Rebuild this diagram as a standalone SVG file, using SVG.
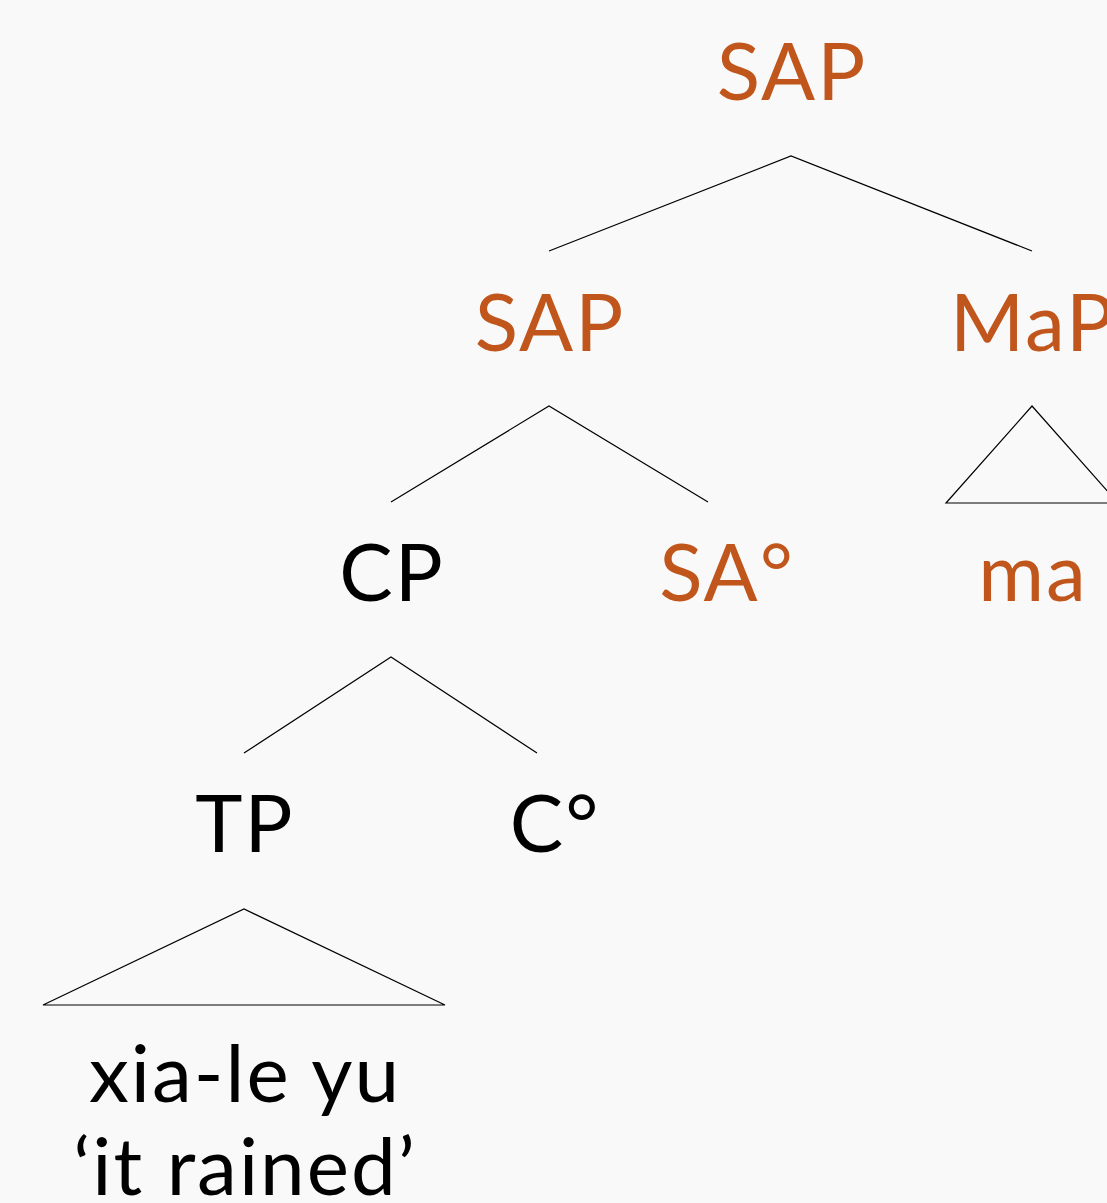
<svg xmlns="http://www.w3.org/2000/svg" width="1107" height="1203" viewBox="0 0 1107 1203">
  <style>
    text { font-family: "Lato", "Noto Sans", "DejaVu Sans", sans-serif; font-size: 80px; text-anchor: middle; letter-spacing: 2px; }
    .sa { fill: #C0561C; }
    .syn { fill: #000000; }
    .edge { stroke: #000000; stroke-width: 1.2; fill: none; }
  </style>
  <rect width="1107" height="1203" fill="#F9F9F9"/>

  <!-- branches -->
  <g id="connectors">
    <polyline class="edge" points="549,251 791,156 1032,251"/>
    <polyline class="edge" points="391,502 549,406 708,502"/>
    <polygon class="edge" points="946,503 1032,406 1118,503"/>
    <polyline class="edge" points="244,753 391,657 537,753"/>
    <polygon class="edge" points="43,1005 244,909 445,1005"/>
  </g>

  <g id="sap-root"><text class="sa" x="792" y="100">SAP</text></g>
  <g id="sap"><text class="sa" x="550" y="351">SAP</text></g>
  <g id="map"><text class="sa" x="1033" y="351">MaP</text></g>
  <g id="ma"><text class="sa" x="1033" y="601">ma</text></g>
  <g id="cp"><text class="syn" x="392" y="601">CP</text></g>
  <g id="sa-head"><text class="sa" x="727" y="601">SA°</text></g>
  <g id="tp"><text class="syn" x="245" y="852">TP</text></g>
  <g id="c-head"><text class="syn" x="555" y="852">C°</text></g>
  <g id="tp-yield">
    <text class="syn" x="245" y="1102">xia-le yu</text>
    <text class="syn" x="245" y="1195">‘it rained’</text>
  </g>
</svg>
